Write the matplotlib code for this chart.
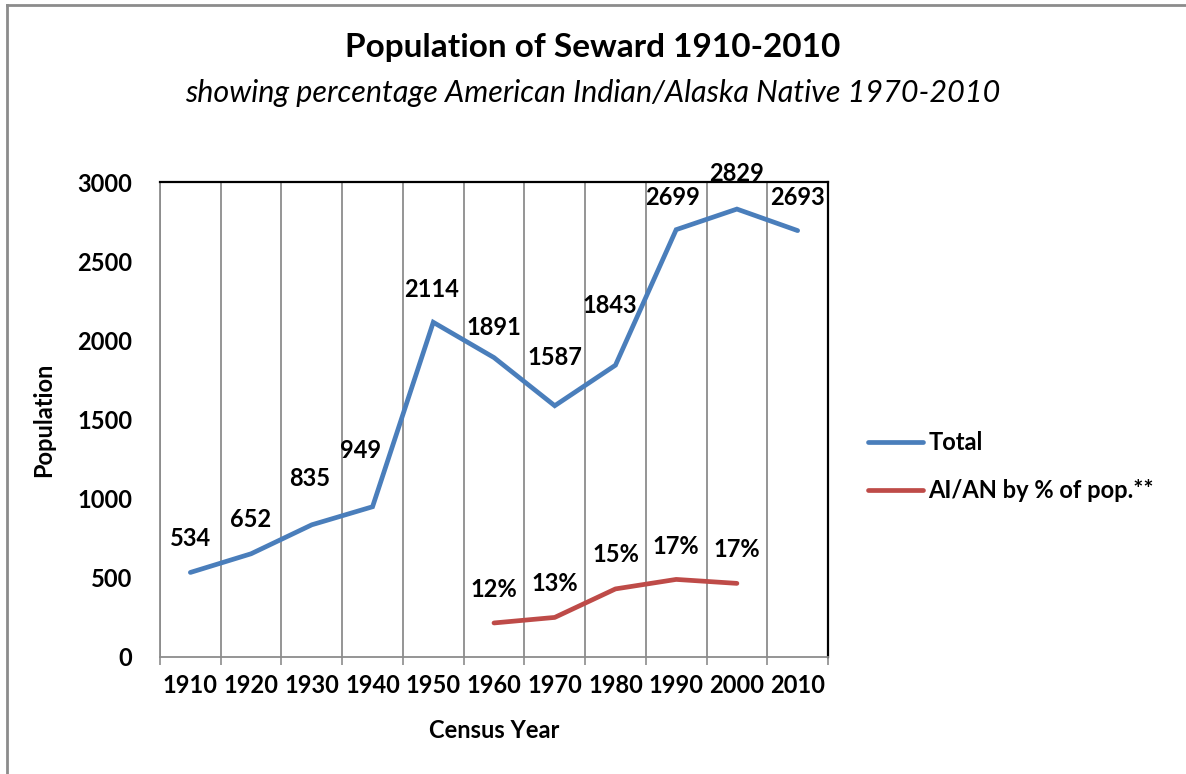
import matplotlib.pyplot as plt
from matplotlib.lines import Line2D

years = ["1910", "1920", "1930", "1940", "1950", "1960", "1970", "1980", "1990", "2000", "2010"]
total = [534, 652, 835, 949, 2114, 1891, 1587, 1843, 2699, 2829, 2693]
# AI/AN series is drawn against the population axis, labelled with its share
aian_pos = [5, 6, 7, 8, 9]
aian_vals = [215, 250, 430, 490, 465]
aian_labels = ["12%", "13%", "15%", "17%", "17%"]

# label offsets (pixels) from each point
total_off = [(0, 34), (0, 34), (-2, 46), (-12, 56), (-2, 33), (0, 30), (0, 48), (-6, 60), (-4, 32), (0, 36), (0, 33)]
aian_off = [(0, 33), (0, 34), (0, 34), (0, 33), (0, 34)]

BLUE = "#4A7EBB"
RED = "#BE4B48"
GRID = "#8C8C8C"
FONT = "Lato"

plt.rcParams["font.family"] = [FONT, "DejaVu Sans"]
plt.rcParams["font.weight"] = "bold"

fig = plt.figure(figsize=(11.86, 7.74), dpi=100)
ax = fig.add_axes([160 / 1186, 1 - 657 / 774, 668 / 1186, 475 / 774])

x = list(range(len(years)))
ax.plot(x, total, color=BLUE, linewidth=3.4, solid_capstyle="round", solid_joinstyle="miter", label="Total", zorder=3)
ax.plot(aian_pos, aian_vals, color=RED, linewidth=3.4, solid_capstyle="round", label="AI/AN by % of pop.**", zorder=3)

for i, v in enumerate(total):
    ax.annotate(str(v), (i, v), xytext=total_off[i], textcoords="offset pixels",
                ha="center", va="center", fontsize=17, fontweight="bold")
for p, v, lab, off in zip(aian_pos, aian_vals, aian_labels, aian_off):
    ax.annotate(lab, (p, v), xytext=off, textcoords="offset pixels",
                ha="center", va="center", fontsize=17, fontweight="bold")

ax.set_xlim(-0.5, len(years) - 0.5)
ax.set_ylim(0, 3000)
ax.set_xticks(x)
ax.set_xticklabels(years, fontsize=17, fontweight="bold")
ax.set_xticks([i - 0.5 for i in range(len(years) + 1)], minor=True)
ax.tick_params(axis="x", which="major", length=0, pad=12)
ax.tick_params(axis="x", which="minor", length=6, color=GRID, width=1.2, direction="out")
ax.set_yticks(range(0, 3001, 500))
ax.set_yticklabels([str(v) for v in range(0, 3001, 500)], fontsize=17, fontweight="bold")
ax.tick_params(axis="y", length=0, pad=20)
ax.grid(True, axis="x", which="minor", color=GRID, linewidth=1.3)
ax.grid(False, axis="y")

ax.spines["left"].set_color(GRID)
ax.spines["bottom"].set_color(GRID)
ax.spines["left"].set_linewidth(1.3)
ax.spines["bottom"].set_linewidth(1.3)
ax.spines["top"].set_color("black")
ax.spines["right"].set_color("black")
ax.spines["top"].set_linewidth(1.6)
ax.spines["right"].set_linewidth(1.6)

ax.set_xlabel("Census Year", fontsize=17, fontweight="bold", labelpad=16)
ax.set_ylabel("Population", fontsize=17, fontweight="bold", labelpad=16)

fig.text(0.5, 1 - 48 / 774, "Population of Seward 1910-2010", ha="center", va="center",
         fontsize=24, fontweight="bold")
fig.text(0.5, 1 - 93 / 774, "showing percentage American Indian/Alaska Native 1970-2010", ha="center",
         va="center", fontsize=22, fontstyle="italic", fontweight="normal")

leg = fig.legend(loc="upper left", bbox_to_anchor=(847 / 1186, 1 - 410 / 774), frameon=False,
                 prop={"size": 17, "weight": "bold"}, handlelength=2.3, handletextpad=0.25, labelspacing=1.05)

# outer chart frame
fig.add_artist(Line2D([7 / 1186, 1], [1 - 5 / 774, 1 - 5 / 774], color=GRID, linewidth=2))
fig.add_artist(Line2D([7 / 1186, 7 / 1186], [0, 1 - 5 / 774], color=GRID, linewidth=2))

fig.savefig("out.png", dpi=100)
